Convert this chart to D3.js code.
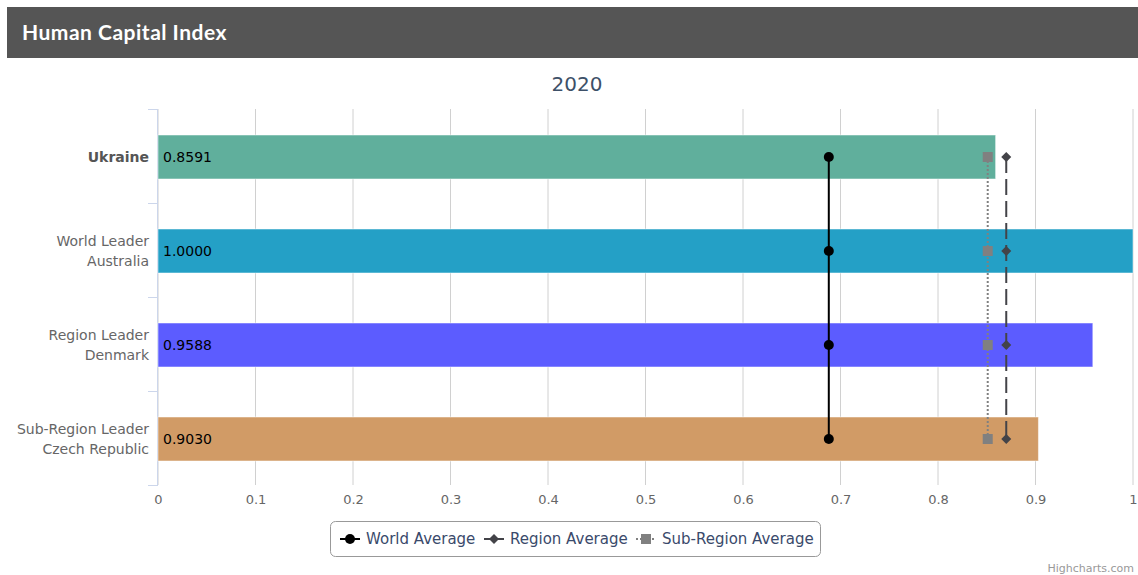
<!DOCTYPE html>
<html>
<head>
<meta charset="utf-8">
<script src="https://cdn.jsdelivr.net/npm/d3@7"></script>
<style>
  body { margin: 0; background: #fff; font-family: "DejaVu Sans", "Lucida Grande", sans-serif; }
</style>
</head>
<body>
<div id="my_dataviz"></div>
<script>
// data
var categories = [["Ukraine"], ["World Leader", "Australia"], ["Region Leader", "Denmark"], ["Sub-Region Leader", "Czech Republic"]];
var values = [0.8591, 1.0000, 0.9588, 0.9030];
var barColors = ["#60af9c", "#24a0c6", "#5c5cff", "#d19b66"];
var worldAvg = [0.688, 0.688, 0.688, 0.688];
var regionAvg = [0.870, 0.870, 0.870, 0.870];
var subRegionAvg = [0.851, 0.851, 0.851, 0.851];
var xTicks = [0, 0.1, 0.2, 0.3, 0.4, 0.5, 0.6, 0.7, 0.8, 0.9, 1];
var legendNames = ["World Average", "Region Average", "Sub-Region Average"];

var W = 1138, H = 575;
var margin = {top: 109, left: 158, right: 5, bottom: 90};
var width = W - margin.left - margin.right,
    height = H - margin.top - margin.bottom;

var svg = d3.select("#my_dataviz")
    .append("svg")
    .attr("width", W)
    .attr("height", H);

// header bar
svg.append("rect").attr("x", 7).attr("y", 7).attr("width", W - 7).attr("height", 51).attr("fill", "#555555");
svg.append("text").attr("x", 22).attr("y", 40)
    .attr("fill", "#fff").attr("font-size", "21px").attr("font-weight", "bold")
    .attr("letter-spacing", "0.5px")
    .attr("font-family", "Lato, 'DejaVu Sans', sans-serif")
    .text("Human Capital Index");

// subtitle
svg.append("text").attr("x", 577).attr("y", 91).attr("text-anchor", "middle")
    .attr("fill", "#3d5068").attr("font-size", "20px")
    .text("2020");

var g = svg.append("g").attr("transform", "translate(" + margin.left + "," + margin.top + ")");

var x = d3.scaleLinear().domain([0, 1]).range([0, width]);
var y = d3.scaleBand().domain(d3.range(categories.length)).range([0, height]);

// grid lines
g.selectAll(".grid").data(xTicks).enter().append("line")
    .attr("x1", d => x(d)).attr("x2", d => x(d))
    .attr("y1", 0).attr("y2", height)
    .attr("stroke", "#d0d0d0").attr("stroke-width", 1);

// x axis labels
var xAxis = g.append("g").attr("transform", "translate(0," + height + ")")
    .call(d3.axisBottom(x).tickValues(xTicks).tickSize(0).tickFormat(d3.format("~g")));
xAxis.select(".domain").remove();
xAxis.selectAll("text").attr("fill", "#666").attr("font-size", "13px")
    .attr("font-family", "'DejaVu Sans', sans-serif").attr("dy", "1.2em");

// y axis line + ticks
g.append("line").attr("x1", -0.5).attr("x2", -0.5).attr("y1", 0).attr("y2", height)
    .attr("stroke", "#ccd6eb");
g.selectAll(".ytick").data(d3.range(categories.length + 1)).enter().append("line")
    .attr("x1", -10).attr("x2", 0)
    .attr("y1", d => Math.round(d * y.step()) + 0.5).attr("y2", d => Math.round(d * y.step()) + 0.5)
    .attr("stroke", "#ccd6eb");

// y labels
categories.forEach(function(lines, i) {
    var cy = y(i) + y.bandwidth() / 2 + 1;
    var t = g.append("text").attr("x", -9).attr("text-anchor", "end")
        .attr("font-size", "14px").attr("fill", i === 0 ? "#555" : "#666")
        .attr("font-weight", i === 0 ? "bold" : "normal");
    var start = cy + 5 - (lines.length - 1) * 10;
    lines.forEach(function(l, j) {
        t.append("tspan").attr("x", -9).attr("y", start + j * 20).text(l);
    });
});

// bars
var barH = 44;
var cyOf = i => y(i) + y.bandwidth() / 2 + 1;
g.selectAll(".bar").data(values).enter().append("rect")
    .attr("x", 0)
    .attr("y", (d, i) => cyOf(i) - barH / 2)
    .attr("width", d => x(d))
    .attr("height", barH)
    .attr("fill", (d, i) => barColors[i])
    .attr("stroke", "#fff").attr("stroke-opacity", 0.5).attr("stroke-width", 1);

g.selectAll(".dlabel").data(values).enter().append("text")
    .attr("x", 5)
    .attr("y", (d, i) => cyOf(i) + 5)
    .attr("font-size", "14px").attr("fill", "#000")
    .text(d => d.toFixed(4));

var line = d3.line().x(d => x(d[0])).y(d => cyOf(d[1]));

// sub-region average (dotted, squares)
g.append("path").datum(subRegionAvg.map((v, i) => [v, i])).attr("d", line)
    .attr("fill", "none").attr("stroke", "#808080").attr("stroke-width", 2).attr("stroke-dasharray", "2,2");
g.selectAll(".sq").data(subRegionAvg).enter().append("rect")
    .attr("x", d => x(d) - 5).attr("y", (d, i) => cyOf(i) - 5)
    .attr("width", 10).attr("height", 10).attr("fill", "#808080");

// region average (dashed, diamonds)
g.append("path").datum(regionAvg.map((v, i) => [v, i])).attr("d", line)
    .attr("fill", "none").attr("stroke", "#434348").attr("stroke-width", 2).attr("stroke-dasharray", "16,6");
g.selectAll(".dm").data(regionAvg).enter().append("path")
    .attr("d", (d, i) => { var cx = x(d), cy = cyOf(i); return "M" + cx + "," + (cy - 5) + "L" + (cx + 5) + "," + cy + "L" + cx + "," + (cy + 5) + "L" + (cx - 5) + "," + cy + "Z"; })
    .attr("fill", "#434348");

// world average (solid, circles)
g.append("path").datum(worldAvg.map((v, i) => [v, i])).attr("d", line)
    .attr("fill", "none").attr("stroke", "#000").attr("stroke-width", 2);
g.selectAll(".ci").data(worldAvg).enter().append("circle")
    .attr("cx", d => x(d)).attr("cy", (d, i) => cyOf(i)).attr("r", 5).attr("fill", "#000");

// legend
var lg = svg.append("g");
lg.append("rect").attr("x", 330.5).attr("y", 521.5).attr("width", 490).attr("height", 35)
    .attr("rx", 5).attr("fill", "#fff").attr("stroke", "#999");
var legendItems = [
    {x: 340, name: legendNames[0], color: "#000", dash: null, marker: "circle"},
    {x: 484, name: legendNames[1], color: "#434348", dash: null, marker: "diamond"},
    {x: 636, name: legendNames[2], color: "#808080", dash: "2,2", marker: "square"}
];
legendItems.forEach(function(it) {
    var cy = 539;
    lg.append("line").attr("x1", it.x).attr("x2", it.x + 20).attr("y1", cy).attr("y2", cy)
        .attr("stroke", it.color).attr("stroke-width", 2).attr("stroke-dasharray", it.dash);
    var cx = it.x + 10;
    if (it.marker === "circle") lg.append("circle").attr("cx", cx).attr("cy", cy).attr("r", 5).attr("fill", it.color);
    if (it.marker === "diamond") lg.append("path").attr("d", "M" + cx + "," + (cy - 5) + "L" + (cx + 5) + "," + cy + "L" + cx + "," + (cy + 5) + "L" + (cx - 5) + "," + cy + "Z").attr("fill", it.color);
    if (it.marker === "square") lg.append("rect").attr("x", cx - 5).attr("y", cy - 5).attr("width", 10).attr("height", 10).attr("fill", it.color);
    lg.append("text").attr("x", it.x + 26).attr("y", cy + 5).attr("font-size", "15px")
        .attr("fill", "#3a4a6b").text(it.name);
});

// credits
svg.append("text").attr("x", 1134).attr("y", 572).attr("text-anchor", "end")
    .attr("font-size", "11px").attr("fill", "#999").text("Highcharts.com");
</script>
</body>
</html>
